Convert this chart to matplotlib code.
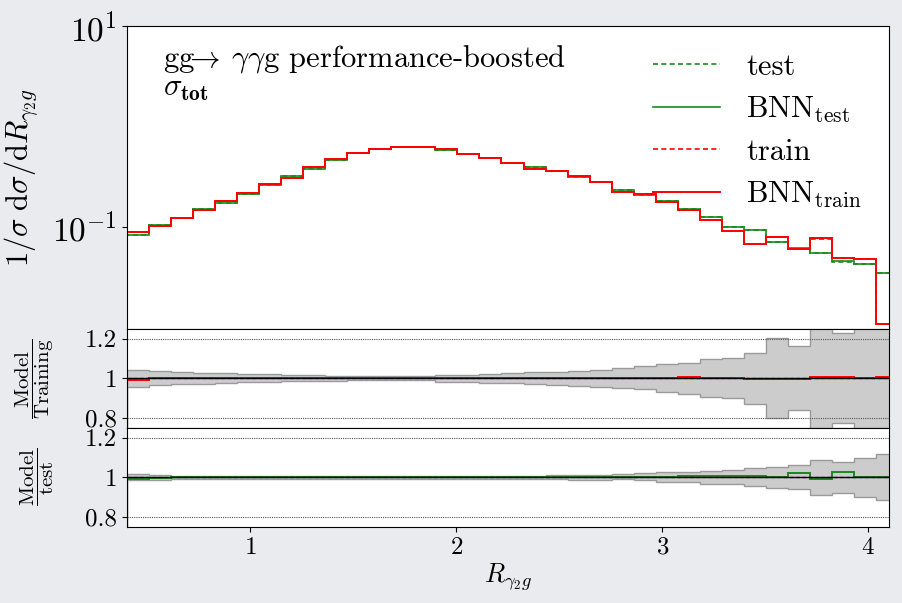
import numpy as np
import matplotlib
matplotlib.use("Agg")
import matplotlib.pyplot as plt

plt.rcParams["font.family"] = "serif"
plt.rcParams["font.serif"] = ["cmr10"]
plt.rcParams["mathtext.fontset"] = "cm"
plt.rcParams["axes.formatter.use_mathtext"] = True
plt.rcParams["axes.unicode_minus"] = False

# bin edges of R_gamma2g (35 bins, last one runs past the axis)
edges = np.linspace(0.4, 4.145, 36)

# normalised distributions
train = [0.089, 0.102, 0.121, 0.147, 0.178, 0.215, 0.268, 0.308, 0.391, 0.47,
         0.54, 0.596, 0.628, 0.62, 0.589, 0.531, 0.48, 0.428, 0.373, 0.359,
         0.322, 0.275, 0.223, 0.210, 0.177, 0.145, 0.115, 0.091, 0.0673, 0.0784,
         0.0596, 0.0759, 0.0484, 0.0473, 0.0106]
test = [0.0826, 0.104, 0.121, 0.148, 0.171, 0.213, 0.261, 0.316, 0.376, 0.465,
        0.535, 0.59, 0.625, 0.62, 0.575, 0.531, 0.485, 0.432, 0.396, 0.359,
        0.312, 0.275, 0.232, 0.204, 0.181, 0.150, 0.124, 0.098, 0.0927, 0.0693,
        0.0600, 0.0543, 0.0438, 0.0422, 0.034]

# BNN / truth ratios
ratio_train = [0.992, 1.0, 1.0, 1.0, 1.0, 1.0, 1.0, 1.0, 1.0, 1.0,
               1.0, 1.0, 1.0, 1.0, 1.0, 1.0, 1.0, 1.0, 1.0, 1.0,
               1.0, 1.0, 1.0, 1.0, 1.0, 1.007, 1.0, 1.0, 0.995, 0.995,
               0.995, 1.005, 1.005, 1.0, 1.008]
ratio_test = [0.992, 0.995, 1.0, 1.0, 1.0, 1.0, 1.0, 1.0, 1.0, 1.0,
              1.0, 1.0, 1.0, 1.0, 1.0, 1.0, 1.0, 1.0, 1.0, 1.0,
              1.0, 1.0, 1.002, 1.002, 1.003, 1.007, 1.007, 1.007, 1.007, 1.0,
              1.024, 0.992, 1.029, 1.0, 1.0]

# BNN uncertainty bands (upper / lower edge of the grey area)
up_train = [1.042, 1.037, 1.032, 1.029, 1.025, 1.022, 1.020, 1.017, 1.015, 1.0135,
            1.012, 1.012, 1.012, 1.012, 1.017, 1.017, 1.022, 1.025, 1.030, 1.034,
            1.039, 1.044, 1.053, 1.062, 1.071, 1.079, 1.100, 1.105, 1.130, 1.206,
            1.164, 1.30, 1.228, 1.30, 1.30]
dn_train = [0.958, 0.965, 0.970, 0.973, 0.976, 0.980, 0.983, 0.985, 0.986, 0.988,
            0.990, 0.990, 0.990, 0.990, 0.983, 0.983, 0.978, 0.975, 0.970, 0.965,
            0.960, 0.956, 0.953, 0.944, 0.931, 0.922, 0.905, 0.899, 0.868, 0.797,
            0.838, 0.70, 0.772, 0.70, 0.70]
up_test = [1.015, 1.012, 1.009, 1.008, 1.007, 1.007, 1.007, 1.007, 1.007, 1.006,
           1.006, 1.006, 1.006, 1.006, 1.006, 1.006, 1.007, 1.008, 1.009, 1.010,
           1.012, 1.014, 1.017, 1.020, 1.025, 1.029, 1.034, 1.037, 1.045, 1.054,
           1.062, 1.088, 1.079, 1.099, 1.116]
dn_test = [0.985, 0.988, 0.991, 0.992, 0.993, 0.993, 0.993, 0.993, 0.993, 0.994,
           0.994, 0.994, 0.994, 0.994, 0.994, 0.994, 0.993, 0.992, 0.991, 0.990,
           0.988, 0.986, 0.990, 0.985, 0.978, 0.975, 0.968, 0.965, 0.954, 0.944,
           0.941, 0.910, 0.919, 0.899, 0.884]

bnn_train = np.array(train) * np.array(ratio_train)
bnn_test = np.array(test) * np.array(ratio_test)

green = "#1a8a1a"
red = "#ff0000"
dash = (0, (3, 2))

fig = plt.figure(figsize=(9.03, 6.03), dpi=100, facecolor="#e9ebee")
left, width = 0.1403, 0.8442
ax = fig.add_axes([left, 0.4544, width, 0.5025])
ax_r1 = fig.add_axes([left, 0.2907, width, 0.1637], sharex=ax)
ax_r2 = fig.add_axes([left, 0.1265, width, 0.1637], sharex=ax)

# main panel
ax.stairs(test, edges, color=green, lw=1.2, ls=dash, label="test")
ax.stairs(bnn_test, edges, color=green, lw=1.2, label=r"BNN$_\mathrm{test}$")
ax.stairs(train, edges, color=red, lw=1.2, ls=dash, label="train")
ax.stairs(bnn_train, edges, color=red, lw=1.4, label=r"BNN$_\mathrm{train}$")

ax.set_yscale("log")
ax.set_ylim(0.0095, 10)
ax.set_xlim(0.4, 4.1)
ax.set_yticks([0.1, 10])
ax.minorticks_off()
ax.tick_params(axis="y", labelsize=24)
ax.tick_params(axis="x", bottom=False, labelbottom=False)
ax.set_ylabel(r"$1/\sigma\ \mathrm{d}\sigma/\mathrm{d}R_{\gamma_2 g}$", fontsize=22)
ax.yaxis.set_label_coords(-0.113, 0.5)

ax.text(0.048, 0.945, r"gg$\!\!\rightarrow\!$ $\gamma\gamma$g performance-boosted",
        transform=ax.transAxes, fontsize=22, va="top")
ax.text(0.048, 0.835, r"$\sigma_{\mathbf{tot}}$", transform=ax.transAxes,
        fontsize=22, va="top")

ax.legend(loc="upper right", frameon=False, fontsize=22, handlelength=2.2,
          handletextpad=0.85, labelspacing=0.45, borderaxespad=0.5)

# ratio panels
panels = [
    (ax_r1, up_train, dn_train, ratio_train, red,
     r"$\dfrac{\mathrm{Model}}{\mathrm{Training}}$"),
    (ax_r2, up_test, dn_test, ratio_test, green,
     r"$\dfrac{\mathrm{Model}}{\mathrm{test}}$"),
]
for a, up, dn, rat, col, lab in panels:
    a.stairs(up, edges, baseline=dn, fill=True, color="#cccccc", lw=0)
    a.stairs(up, edges, color="#9a9a9a", lw=1)
    a.stairs(dn, edges, color="#9a9a9a", lw=1)
    a.axhline(1.0, color="black", lw=1)
    a.stairs(rat, edges, color=col, lw=1.4)
    a.axhline(1.0, color="black", lw=0.9, ls=dash)
    for yv in (0.8, 1.2):
        a.axhline(yv, color="#555555", lw=0.8, ls=(0, (1, 1)))
    a.set_ylim(0.75, 1.25)
    a.set_yticks([0.8, 1.0, 1.2])
    a.set_yticklabels(["0.8", "1", "1.2"])
    a.tick_params(axis="y", labelsize=18)
    a.set_ylabel(lab, fontsize=15)
    a.yaxis.set_label_coords(-0.093, 0.5)

ax_r1.tick_params(axis="x", bottom=False, labelbottom=False)
ax_r2.set_xticks([1, 2, 3, 4])
ax_r2.tick_params(axis="x", labelsize=18)
ax_r2.set_xlabel(r"$R_{\gamma_2 g}$", fontsize=19, labelpad=2)

fig.savefig("out.png", dpi=100, facecolor=fig.get_facecolor())
